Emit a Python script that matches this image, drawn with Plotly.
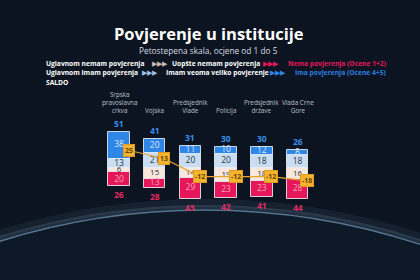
import plotly.graph_objects as go

categories = ["Srpska<br>pravoslavna<br>crkva", "Vojska", "Predsjednik<br>Vlade", "Policija",
              "Predsjednik<br>države", "Vlada Crne<br>Gore"]
veoma_veliko = [38, 20, 11, 10, 12, 8]      # Imam veoma veliko povjerenje (5)
uglavnom_imam = [13, 21, 20, 20, 18, 18]    # Uglavnom imam povjerenja (4)
uglavnom_nemam = [6, 15, 14, 19, 18, 16]    # Uglavnom nemam povjerenja (2)
uopste_nemam = [20, 13, 29, 23, 23, 28]     # Uopšte nemam povjerenja (1)
ima_total = [51, 41, 31, 30, 30, 26]        # Ocene 4+5
nema_total = [26, 28, 43, 42, 41, 44]       # Ocene 1+2
saldo = [25, 13, -12, -12, -12, -18]

BG = "#0b1420"
C_DB = "#2e86e6"
C_LB = "#c9def2"
C_BE = "#f8e7dc"
C_RD = "#e5175a"
C_BLUE_TXT = "#3b8eea"
C_RED_TXT = "#e52a66"
C_SALDO = "#f3b431"
FONT = "Open Sans"

xs = list(range(len(categories)))
fig = go.Figure()

outline = dict(color="rgba(235,238,245,0.85)", width=1)
fig.add_trace(go.Bar(x=xs, y=uglavnom_imam, marker=dict(color=C_LB, line=outline), width=0.6))
fig.add_trace(go.Bar(x=xs, y=veoma_veliko, marker=dict(color=C_DB, line=outline), width=0.6))
fig.add_trace(go.Bar(x=xs, y=[-v for v in uglavnom_nemam], marker=dict(color=C_BE, line=outline), width=0.6))
fig.add_trace(go.Bar(x=xs, y=[-v for v in uopste_nemam], marker=dict(color=C_RD, line=outline), width=0.6))

# segment labels
def seg_text(yvals, vals, color, size=8.5):
    fig.add_trace(go.Scatter(x=xs, y=yvals, mode="text", text=[str(v) for v in vals],
                             textfont=dict(family=FONT, size=size, color=color),
                             hoverinfo="skip"))

seg_text([v / 2 for v in uglavnom_imam], uglavnom_imam, "#2f3540")
seg_text([a + b / 2 for a, b in zip(uglavnom_imam, veoma_veliko)], veoma_veliko, "#d6e7fa")
seg_text([-v / 2 for v in uglavnom_nemam], uglavnom_nemam, "#2f3540", 8)
seg_text([-a - b / 2 for a, b in zip(uglavnom_nemam, uopste_nemam)], uopste_nemam, "#f7a2b8")

# saldo line
sx = [x + 0.27 for x in xs]
fig.add_trace(go.Scatter(x=sx, y=saldo, mode="lines", line=dict(color="#e6a52c", width=1.2),
                         hoverinfo="skip"))

ann = []
for x, s in zip(sx, saldo):
    ann.append(dict(x=x, y=s, xref="x", yref="y", text=f"<b>{s}</b>", showarrow=False,
                    xanchor="center", yanchor="middle",
                    bgcolor=C_SALDO, bordercolor="#e39a1c", borderwidth=1, borderpad=1,
                    font=dict(family=FONT, size=7, color="#6b4300")))

for x, t in zip(xs, ima_total):
    ann.append(dict(x=x, y=t, xref="x", yref="y", text=f"<b>{t}</b>", showarrow=False,
                    xanchor="center", yanchor="bottom", yshift=1,
                    font=dict(family=FONT, size=8.5, color=C_BLUE_TXT)))
for x, t in zip(xs, nema_total):
    ann.append(dict(x=x, y=-t, xref="x", yref="y", text=f"<b>{t}</b>", showarrow=False,
                    xanchor="center", yanchor="top", yshift=-1,
                    font=dict(family=FONT, size=8.5, color=C_RED_TXT)))

for x, c in zip(xs, categories):
    ann.append(dict(x=x, y=1 - 117 / 280, xref="x", yref="paper", text=c, showarrow=False,
                    xanchor="center", yanchor="bottom",
                    font=dict(family=FONT, size=6.3, color="#b9c0cb")))

def px(xp, yp):
    return xp / 420, 1 - yp / 280

# title
tx, ty = px(209, 33.5)
ann.append(dict(x=tx, y=ty, xref="paper", yref="paper", text="<b>Povjerenje u institucije</b>",
                showarrow=False, xanchor="center", yanchor="middle",
                font=dict(family=FONT, size=16.5, color="white")))
tx, ty = px(208, 50)
ann.append(dict(x=tx, y=ty, xref="paper", yref="paper", text="Petostepena skala, ocjene od 1 do 5",
                showarrow=False, xanchor="center", yanchor="middle",
                font=dict(family=FONT, size=8.3, color="#d9dde4")))

legend_items = [
    (44, 64, "<b>Uglavnom nemam povjerenja</b>", "white", 6.7),
    (150, 64, "▶▶▶", "#cdb9b2", 6.5),
    (170, 64, "<b>Uopšte nemam povjerenja</b>", "white", 6.7),
    (261, 64, "▶▶▶", C_RD, 6.5),
    (286, 64, "<b>Nema povjerenja (Ocene 1+2)</b>", C_RD, 6.7),
    (44, 73, "<b>Uglavnom imam povjerenja</b>", "white", 6.7),
    (140, 73, "▶▶▶", "#9fc0e4", 6.5),
    (164, 73, "<b>Imam veoma veliko povjerenje</b>", "white", 6.7),
    (268, 73, "▶▶▶", C_DB, 6.5),
    (293, 73, "<b>Ima povjerenja (Ocene 4+5)</b>", "#2f7fe0", 6.7),
    (44, 82, "<b>SALDO</b>", "white", 6.7),
]
for x0, y0, t, col, sz in legend_items:
    lx, ly = px(x0, y0)
    ann.append(dict(x=lx, y=ly, xref="paper", yref="paper", text=t, showarrow=False,
                    xanchor="left", yanchor="middle", font=dict(family=FONT, size=sz, color=col)))

# decorative globe (glow rings)
R = 690
cx, cy = 205, 900
shapes = []
for dr, alpha, w in [(7, 0.08, 8), (3, 0.16, 4), (0, 0.55, 1.5)]:
    shapes.append(dict(type="circle", xref="paper", yref="paper", layer="below",
                       x0=(cx - R - dr) / 420, x1=(cx + R + dr) / 420,
                       y0=1 - (cy + R + dr) / 280, y1=1 - (cy - R - dr) / 280,
                       fillcolor="rgba(25,50,75,0.18)" if dr == 0 else "rgba(0,0,0,0)",
                       line=dict(color=f"rgba(150,195,235,{alpha})", width=w)))

fig.update_layout(
    width=420, height=280, autosize=False,
    margin=dict(l=0, r=0, t=0, b=0),
    paper_bgcolor=BG, plot_bgcolor="rgba(0,0,0,0)",
    barmode="relative", bargap=0, showlegend=False,
    xaxis=dict(range=[-3.333, 8.431], visible=False, fixedrange=True),
    yaxis=dict(range=[-157.7, 236.6], visible=False, fixedrange=True),
    annotations=ann, shapes=shapes,
)
fig.write_html("out.html")
